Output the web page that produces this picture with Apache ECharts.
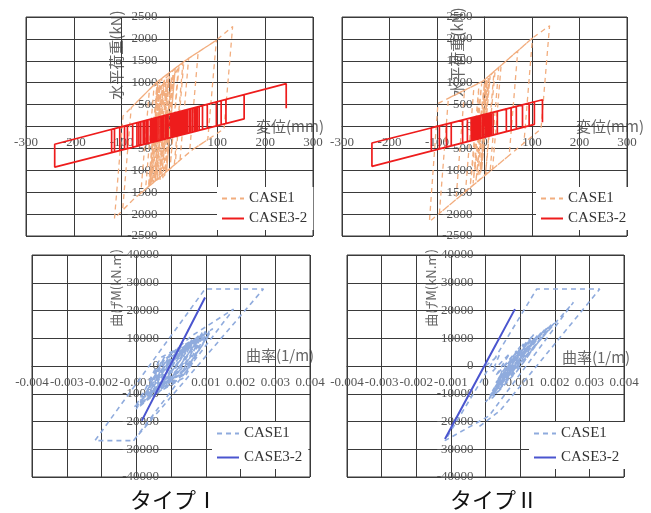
<!DOCTYPE html>
<html>
<head>
<meta charset="utf-8">
<script src="https://cdn.jsdelivr.net/npm/echarts@6/dist/echarts.min.js"></script>
<style>
html, body { margin: 0; padding: 0; background: #fff; }
#main { width: 651px; height: 513px; }
</style>
</head>
<body>
<div id="main"></div>
<script>
// axis ranges [min, max, interval]
const dispAxis = [-300, 300, 100];       // 変位(mm)
const loadAxis = [-2500, 2500, 500];     // 水平荷重(kN)
const curvAxis = [-0.004, 0.004, 0.001]; // 曲率(1/m)
const momAxis = [-40000, 40000, 10000];  // 曲げM(kN.m)

// CASE3-2 load-displacement: reversal points [disp, upper load, lower load]
const redRevI = [
  [3, 289, -252], [-3, 271, -268], [6, 297, -243], [-5, 266, -274], [15, 323, -218],
  [-18, 229, -310], [22, 343, -199], [-26, 206, -332], [30, 366, -177], [-33, 186, -352],
  [10, 309, -232], [-40, 166, -371], [44, 406, -138], [-28, 200, -338], [32, 372, -171],
  [-48, 143, -393], [52, 429, -115], [-55, 123, -413], [58, 446, -99], [-64, 97, -438],
  [12, 314, -227], [-8, 257, -282], [20, 337, -204], [-15, 237, -302], [8, 303, -238],
  [-22, 217, -321], [28, 360, -182], [-30, 194, -343], [18, 331, -210], [-38, 171, -366],
  [35, 380, -163], [-12, 246, -293], [42, 400, -143], [-45, 151, -385], [25, 352, -190],
  [-52, 131, -405], [48, 417, -127], [-35, 180, -357], [55, 437, -107], [-60, 108, -427],
  [38, 389, -154], [-68, 86, -449], [62, 457, -88], [-77, 60, -474], [69, 477, -68],
  [-88, 28, -505], [79, 506, -40], [-94, 11, -521], [98, 560, 12], [-104, -17, -549],
  [108, 589, 40], [-115, -49, -580], [118, 617, 68], [-121, -66, -596], [156, 726, 174],
  [-240, -406, -927], [244, 978, 418]
];
const redRevII = [
  [2, 281, -239], [-4, 264, -256], [7, 294, -225], [-10, 248, -273], [12, 308, -211],
  [-18, 226, -295], [18, 325, -195], [-22, 215, -307], [-2, 270, -251], [-28, 198, -323],
  [5, 289, -231], [-8, 253, -267], [10, 303, -217], [-15, 234, -287], [3, 283, -237],
  [-20, 220, -301], [14, 314, -206], [-25, 206, -315], [8, 297, -223], [-12, 242, -279],
  [27, 349, -169], [-36, 176, -346], [46, 402, -116], [-46, 149, -374], [56, 429, -88],
  [-70, 83, -441], [67, 459, -57], [-80, 55, -469], [80, 495, -21], [-95, 14, -511],
  [94, 534, 18], [-112, -33, -559], [105, 564, 49], [-237, -377, -909], [122, 611, 97]
];

// CASE1 load-displacement paths [disp, load]
const orangeI = [
  [0, 0], [10, 1150], [20, 1390], [2, -850], [18, 1300], [28, 1450], [10, -890], [-8, -1050],
  [10, 1200], [-10, -1120], [-28, -1230], [-10, 1140], [-2, 1210], [-20, -1150], [-40, -1340],
  [-20, 1060], [-38, -1320], [-50, -1430], [-32, 950], [-24, 1040], [-42, -1360], [-24, 900],
  [-44, -1380], [-26, 1020], [-36, -1280], [-16, 1100], [-30, -1250], [-12, 1050], [-26, -1200],
  [-6, 1080], [-22, -1150], [0, 1150], [-16, -1100], [4, 1120], [-14, -1180], [6, 1160],
  [-20, -1220], [-2, 1060], [-34, -1300], [-14, 980], [-40, -1320], [-20, 950], [-30, -1260],
  [-8, 1100], [12, 1330], [-6, -1020], [12, 1330], [30, 1480], [12, -860], [-10, -1060],
  [8, 1300], [40, 1560], [22, -768], [-60, -1523], [-42, 843], [-27, 1010], [35, 1520],
  [60, 1700], [42, -584], [-76, -1670], [-98, -1910], [-80, 429], [-27, 1010], [35, 1520],
  [98, 1970], [80, -300], [48, -530], [-76, -1670], [-115, -2100], [-97, 243], [-27, 1010],
  [35, 1520], [98, 1970], [132, 2283], [114, -53], [48, -530]
];
const orangeII = [
  [0, 0], [10, 1100], [-6, -1000], [12, 1150], [-10, -1100], [6, 1050], [-18, -1250], [0, 1000],
  [-24, -1300], [-6, 980], [-30, -1350], [-12, 900], [-20, -1000], [2, 1050], [-14, -1150],
  [4, 1080], [-8, -1050], [8, 1120], [20, 1256], [2, -1108], [22, 1230], [30, 1340], [12, -1000],
  [-40, -1487], [-22, 935], [-4, 1030], [35, 1397], [17, -973], [-60, -1667], [-42, 829],
  [-4, 1030], [70, 1726], [52, -657], [-95, -1983], [-76, 648], [-4, 1030], [101, 2020],
  [83, -377], [-116, -2172], [-98, 527], [-4, 1030], [101, 2020], [137, 2300], [119, -53],
  [60, -585]
];

// moment-curvature paths [curvature, moment]
const blueDashI = [
  [0, 0], [0.0003, 4500], [-0.0002, -3500], [0.0004, 5500], [0.0001, -500], [-0.0003, -5000],
  [0, 1500], [0.0005, 7000], [0.0001, -1500], [-0.0004, -6500], [0, 2000], [0.0006, 8500],
  [0.0002, -2000], [-0.0005, -7500], [-0.0001, 2500], [0.0007, 9000], [0.0002, -2500],
  [-0.0006, -9000], [-0.0001, 3000], [0.0008, 10500], [0.0003, -3000], [-0.0007, -10000],
  [-0.0002, 2000], [0.0009, 11000], [0.0003, -2500], [-0.0008, -11500], [-0.0002, 3000],
  [0.001, 11500], [0.0004, -3000], [-0.0009, -12500], [-0.0003, 3000], [0.0011, 12500],
  [0.0004, -4000], [-0.001, -14000], [-0.0004, -1000], [0.0005, 7500], [0.0009, 12000],
  [0.0002, -1000], [-0.0006, -11000], [-0.0001, 1000], [0.0008, 9500], [0.0001, -3500],
  [-0.0008, -13000], [-0.0002, -500], [0.0007, 8000], [0, -4500], [-0.0007, -10500],
  [0.0001, 3500], [0.0011, 11000], [0.0002, -5000], [-0.0011, -15000], [-0.0009, -13500],
  [-0.0002, 0], [0.0009, 10500], [0.0003, -1000], [-0.0005, -9500], [0.0001, 2500],
  [0.001, 12500], [0.0004, -1500], [-0.001, -15500], [-0.0004, -3000], [0.0006, 9500],
  [0.0001, -500], [-0.0007, -12000], [-0.0001, 1500], [0.0012, 13500], [0.0005, 0],
  [-0.0003, -8000], [0.0002, 3500], [0.0008, 11000], [-0.0001, -4000], [-0.0009, -14500],
  [-0.0003, 1000], [0.0006, 10900], [0.0018, 20500], [-0.00108, -26900], [-0.00219, -26900],
  [0.00098, 27750], [0.00266, 27750], [-0.00108, -26900]
];
const blueSolidI = [
  [0, 800], [0.0005, 13000], [-0.0004, -8960], [0.0007, 17880], [-0.0006, -13840],
  [0.00098, 24712], [-0.00084, -19696], [0, 800]
];
const blueDashII = [
  [0, 0], [0.0004, 4000], [0.0002, -2000], [0.0007, 4500], [0.0003, -3500], [0.0009, 5500],
  [0.0005, -1000], [0.0004, -4500], [0.0008, 3000], [0.001, 7000], [0.0006, 0], [0.0003, -6000],
  [0.0008, 2000], [0.0011, 8000], [0.0007, 1000], [0.0004, -5500], [0.0009, 3000], [0.0012, 9000],
  [0.0006, -1500], [0.0003, -7500], [0.0008, 1500], [0.0013, 9500], [0.0005, -3000],
  [0.0002, -9000], [0.0008, 2500], [0.0014, 10000], [0.0005, -5000], [0.0015, 11000],
  [0.0007, -2000], [0.0004, -6500], [0.001, 4000], [0.0013, 7500], [0.0006, -4000],
  [0.0016, 12000], [0.0008, -1000], [0.0002, -10500], [0.0009, 3000], [0.0018, 14000],
  [0.001, -500], [0.0001, -12000], [0.0007, 1000], [0.0014, 11500], [0.0006, -2500],
  [0.0003, -8500], [0.0011, 5000], [0.0019, 15000], [0.0009, -2000], [0.0002, -11500],
  [0.0001, -11000], [0.0017, 13000], [0.0003, -10000], [0.002, 15700], [0, -13000],
  [0.00254, 22950], [0.0001, -18000], [-0.00117, -26900], [0.00148, 27750], [0.0033, 27750],
  [0.00042, -16100], [-0.0002, -22000]
];
const blueSolidII = [
  [0, 800], [0.0005, 12394], [-0.0005, -10776], [0.00085, 20500], [-0.00117, -26300],
  [0.0003, 7760], [-0.0008, -17727]
];

// vertical-drop loops from reversal list
function boxLoops(rev) {
  const pts = [[0, 0]];
  rev.forEach((r, i) => {
    if (i % 2 === 0) {
      pts.push([r[0], r[1]], [r[0], r[2]]);
    } else {
      pts.push([r[0], r[2]], [r[0], r[1]]);
    }
  });
  return pts;
}

const gridColor = '#3a3a3a';
const labelFont = { fontFamily: 'Liberation Serif', fontSize: 13, color: '#555' };

const grids = [
  { left: 26, top: 17, width: 287, height: 219 },
  { left: 342, top: 17, width: 285, height: 219 },
  { left: 32, top: 255, width: 278, height: 222 },
  { left: 347, top: 255, width: 277, height: 222 }
];

// axes cross at zero: ranges are symmetric, so shift the axis half the grid inward
function xAx(idx, r, fmt) {
  return {
    type: 'value', gridIndex: idx, min: r[0], max: r[1], interval: r[2],
    position: 'bottom', offset: -grids[idx].height / 2,
    axisLine: { show: true, onZero: false, lineStyle: { color: gridColor, width: 1 } },
    axisTick: { show: false },
    splitLine: { show: true, lineStyle: { color: gridColor, width: 1 } },
    axisLabel: Object.assign({ margin: 10, formatter: fmt, hideOverlap: false }, labelFont)
  };
}
function yAx(idx, r) {
  return {
    type: 'value', gridIndex: idx, min: r[0], max: r[1], interval: r[2],
    position: 'left', offset: -grids[idx].width / 2,
    axisLine: { show: true, onZero: false, lineStyle: { color: gridColor, width: 1 } },
    axisTick: { show: false },
    splitLine: { show: true, lineStyle: { color: gridColor, width: 1 } },
    axisLabel: Object.assign({ margin: 12, formatter: v => String(v), hideOverlap: false }, labelFont)
  };
}
function legend(left, top, names, gap) {
  return {
    orient: 'vertical', left: left, top: top, data: names,
    itemWidth: 22, itemHeight: 10, itemGap: gap,
    backgroundColor: '#fff', padding: [4, 6, 4, 4],
    selectedMode: false,
    itemStyle: { opacity: 0 },
    formatter: n => n.trim(),
    textStyle: { fontFamily: 'Liberation Serif', fontSize: 15, color: '#333' }
  };
}
function line(name, idx, data, color, width, dashed) {
  return {
    name: name, type: 'line', xAxisIndex: idx, yAxisIndex: idx, data: data,
    symbol: 'none', smooth: false, clip: false,
    lineStyle: { color: color, width: width, type: dashed ? [5, 4] : 'solid' },
    itemStyle: { color: color }
  };
}
function txt(x, y, text, size, color, rot) {
  return {
    type: 'text', x: x, y: y, rotation: rot || 0,
    style: {
      text: text, fontFamily: 'Noto Sans CJK JP', fontSize: size, fill: color,
      align: 'center', verticalAlign: 'middle'
    }
  };
}

const fmtDisp = v => String(v);
const fmtCurv = v => (v === 0 ? '0' : v.toFixed(3));

const chart = echarts.init(document.getElementById('main'));
const option = {
  animation: false,
  backgroundColor: '#fff',
  grid: grids.map(g => Object.assign({ show: true, borderColor: gridColor, borderWidth: 1 }, g)),
  xAxis: [xAx(0, dispAxis, fmtDisp), xAx(1, dispAxis, fmtDisp), xAx(2, curvAxis, fmtCurv), xAx(3, curvAxis, fmtCurv)],
  yAxis: [yAx(0, loadAxis), yAx(1, loadAxis), yAx(2, momAxis), yAx(3, momAxis)],
  legend: [
    legend(217, 187, ['CASE1', 'CASE3-2'], 5),
    legend(536, 187, ['CASE1', 'CASE3-2'], 5),
    legend(212, 422, ['CASE1 ', 'CASE3-2 '], 9),
    legend(529, 422, ['CASE1 ', 'CASE3-2 '], 9)
  ],
  series: [
    line('CASE1', 0, orangeI, '#f2ad7e', 1.3, true),
    line('CASE3-2', 0, boxLoops(redRevI), '#ee1c1c', 1.7, false),
    line('CASE1', 1, orangeII, '#f2ad7e', 1.3, true),
    line('CASE3-2', 1, boxLoops(redRevII), '#ee1c1c', 1.7, false),
    line('CASE1 ', 2, blueDashI, '#8fabdd', 1.6, true),
    line('CASE3-2 ', 2, blueSolidI, '#4a55cf', 2, false),
    line('CASE1 ', 3, blueDashII, '#8fabdd', 1.6, true),
    line('CASE3-2 ', 3, blueSolidII, '#4a55cf', 2, false)
  ],
  graphic: [
    txt(116, 55, '水平荷重(kN)', 15, '#666', Math.PI / 2),
    txt(290, 126, '変位(mm)', 15, '#666'),
    txt(457, 52, '水平荷重(kN)', 15, '#666', Math.PI / 2),
    txt(610, 126, '変位(mm)', 15, '#666'),
    txt(116, 288, '曲げM(kN.m)', 13, '#666', Math.PI / 2),
    txt(280, 355, '曲率(1/m)', 15, '#666'),
    txt(431, 288, '曲げM(kN.m)', 13, '#666', Math.PI / 2),
    txt(596, 357, '曲率(1/m)', 15, '#666'),
    txt(174, 500, 'タイプⅠ', 22, '#111'),
    txt(494, 500, 'タイプⅡ', 22, '#111')
  ]
};
chart.setOption(option);
</script>
</body>
</html>
